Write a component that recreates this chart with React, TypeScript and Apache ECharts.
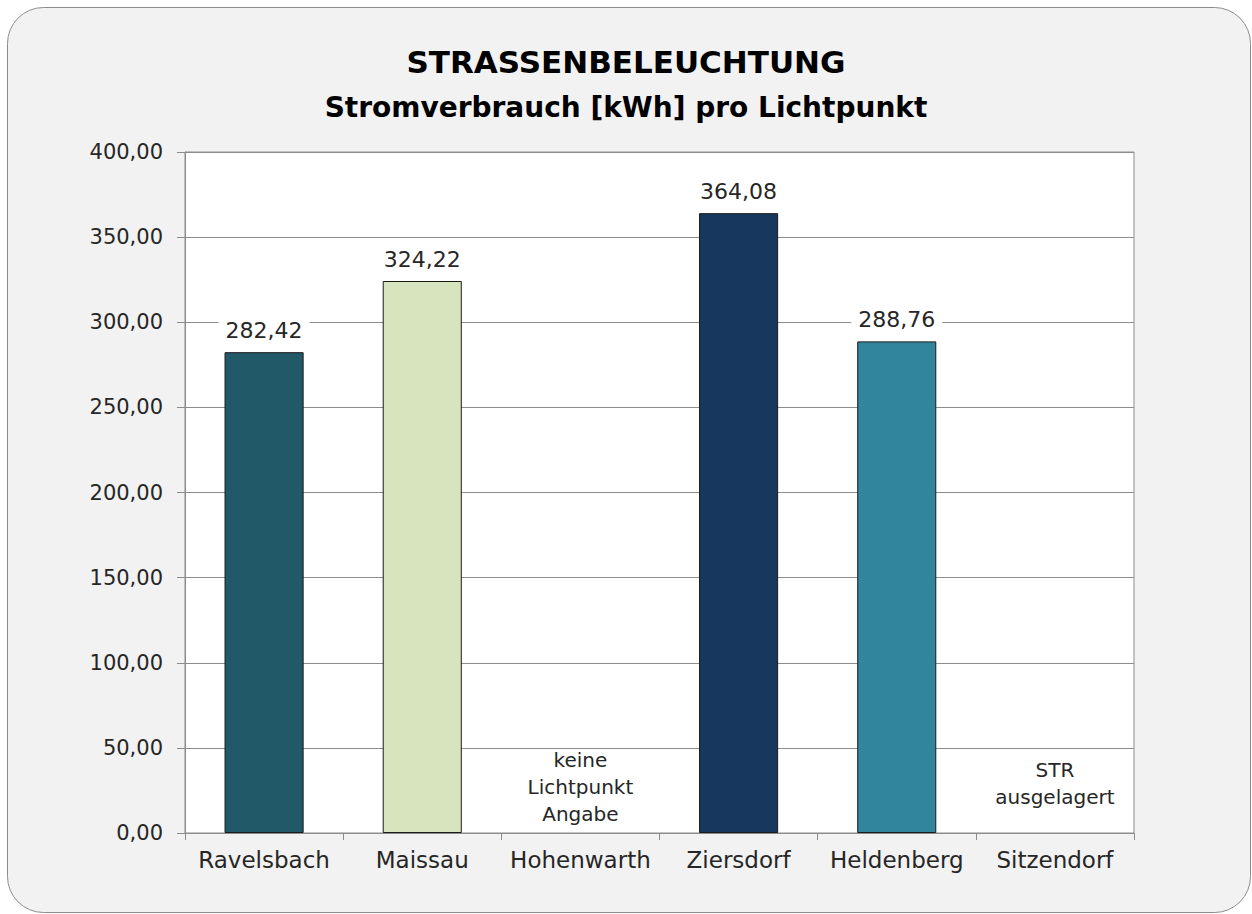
import React, { useEffect, useRef } from "react";
import * as echarts from "echarts";

const categories = ["Ravelsbach", "Maissau", "Hohenwarth", "Ziersdorf", "Heldenberg", "Sitzendorf"];
const values: (number | null)[] = [282.42, 324.22, null, 364.08, 288.76, null];
const barColors = ["#215968", "#d7e4bd", "#ffffff", "#17375e", "#31859c", "#ffffff"];
const notes = ["", "", "keine\nLichtpunkt\nAngabe", "", "", "STR\nausgelagert"];
const noteY = [null, null, 27, null, null, 29];
const yTicks = { min: 0, max: 400, interval: 50 };
const titleText = "STRASSENBELEUCHTUNG";
const subtitleText = "Stromverbrauch [kWh] pro Lichtpunkt";

const FONT = "'DejaVu Sans', sans-serif";
const fmt = (v: number) => v.toFixed(2).replace(".", ",");

export default function App() {
  const ref = useRef<HTMLDivElement>(null);
  useEffect(() => {
    document.body.style.margin = "0";
    const chart = echarts.init(ref.current!, null, { renderer: "svg" });
    chart.setOption({
      animation: false,
      backgroundColor: "#ffffff",
      textStyle: { fontFamily: FONT },
      graphic: [
        {
          type: "rect",
          z: -100,
          silent: true,
          shape: { x: 7.5, y: 7.5, width: 1243, height: 905, r: 36 },
          style: { fill: "#f2f2f2", stroke: "#8c8c8c", lineWidth: 1 },
        },
      ],
      title: [
        {
          text: titleText,
          left: "center",
          top: 41,
          textStyle: { fontFamily: FONT, fontSize: 31, fontWeight: "bold", color: "#000" },
        },
        {
          text: subtitleText,
          left: "center",
          top: 88,
          textStyle: { fontFamily: FONT, fontSize: 28, fontWeight: "bold", color: "#000" },
        },
      ],
      grid: {
        left: 185,
        right: 118,
        top: 152,
        bottom: 81,
        show: true,
        backgroundColor: "#ffffff",
        borderColor: "#8c8c8c",
        borderWidth: 1,
      },
      xAxis: {
        type: "category",
        data: categories,
        axisLine: { lineStyle: { color: "#8c8c8c", width: 1 } },
        axisTick: { show: true, length: 7, lineStyle: { color: "#8c8c8c" } },
        axisLabel: { interval: 0, fontFamily: FONT, fontSize: 23, color: "#262626", margin: 15 },
      },
      yAxis: {
        type: "value",
        min: yTicks.min,
        max: yTicks.max,
        interval: yTicks.interval,
        axisLine: { show: true, lineStyle: { color: "#8c8c8c", width: 1 } },
        axisTick: { show: true, length: 8, lineStyle: { color: "#8c8c8c" } },
        splitLine: { lineStyle: { color: "#8c8c8c", width: 1 } },
        axisLabel: {
          fontFamily: FONT,
          fontSize: 21,
          color: "#262626",
          margin: 22,
          formatter: (v: number) => fmt(v),
        },
      },
      series: [
        {
          type: "bar",
          barWidth: "50%",
          data: values.map((v, i) => ({
            value: v,
            itemStyle: { color: barColors[i], borderColor: "#1a1a1a", borderWidth: 1 },
          })),
          label: {
            show: true,
            position: "top",
            distance: 8,
            fontFamily: FONT,
            fontSize: 22,
            color: "#262626",
            backgroundColor: "#ffffff",
            padding: [3, 7],
            formatter: (p: any) => (p.value == null ? "" : fmt(p.value)),
          },
        },
        {
          type: "scatter",
          symbolSize: 0,
          silent: true,
          itemStyle: { opacity: 1 },
          data: noteY.map((v, i) => (v == null ? [i, null] : [i, v])),
          label: {
            show: true,
            position: "inside",
            fontFamily: FONT,
            fontSize: 20,
            lineHeight: 27,
            color: "#262626",
            opacity: 1,
            align: "center",
            verticalAlign: "middle",
            formatter: (p: any) => notes[p.dataIndex],
          },
        },
      ],
    });
    return () => chart.dispose();
  }, []);
  return <div ref={ref} style={{ width: 1252, height: 914 }} />;
}
